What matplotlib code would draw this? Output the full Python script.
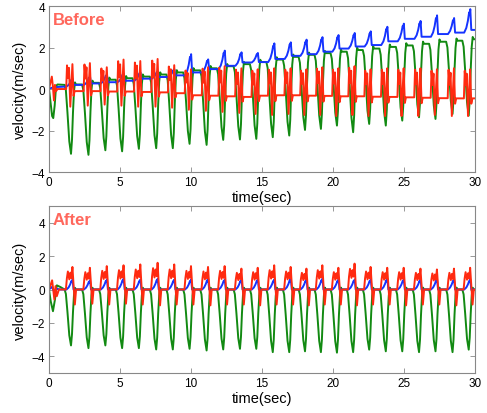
import numpy as np
import matplotlib.pyplot as plt

plt.rcParams['font.family'] = ['Liberation Sans', 'DejaVu Sans']

# time of each green dip (sec), same for both panels
dip_t = [1.55, 2.78, 3.97, 5.15, 6.33, 7.55, 8.72, 9.90, 11.10, 12.27, 13.45, 14.60, 15.76,
         16.92, 18.03, 19.15, 20.28, 21.42, 22.55, 23.72, 24.88, 26.06, 27.22, 28.42, 29.56]

# ---- Before ----
green_top_b = [0.2, 0.22, 0.3, 0.45, 0.52, 0.6, 0.7, 0.8, 0.9, 1.0, 1.1, 1.2, 1.3, 1.42, 1.55,
               1.65, 1.73, 1.8, 1.88, 1.95, 2.03, 2.1, 2.18, 2.28, 2.33, 2.4]
green_min_b = [-3.12, -3.17, -2.95, -3.0, -2.88, -2.85, -2.85, -2.64, -2.69, -2.45, -2.43, -2.4,
               -2.32, -2.24, -1.97, -1.92, -1.76, -2.08, -1.68, -1.76, -1.52, -1.36, -1.44, -1.2, -1.28]
blue_base_b = [0.12, 0.2, 0.27, 0.33, 0.4, 0.5, 0.58, 0.66, 0.8, 0.96, 1.12, 1.28, 1.3, 1.45, 1.6,
               1.68, 1.8, 1.95, 2.05, 2.12, 2.3, 2.42, 2.52, 2.65, 2.72, 2.85]
blue_peak_b = [0.5, 0.6, 0.7, 0.75, 0.8, 0.85, 0.95, 1.68, 1.43, 1.85, 1.77, 1.74, 2.2, 2.25, 2.38,
               2.5, 2.6, 2.7, 2.78, 3.0, 3.15, 3.28, 3.55, 3.42, 3.85]
red_base_b = [0.0, -0.1, -0.1, -0.12, -0.12, -0.14, -0.16, -0.2, -0.3, -0.32, -0.35, -0.38, -0.32,
              -0.3, -0.3, -0.32, -0.33, -0.35, -0.35, -0.37, -0.38, -0.4, -0.42, -0.44, -0.45, -0.45]
red_hi_b = [1.2, 1.25, 1.05, 1.42, 1.35, 1.45, 1.15, 0.95, 1.05, 1.1, 1.0, 0.95, 1.0, 1.0, 0.95,
            1.05, 1.0, 1.1, 0.95, 1.0, 1.0, 1.0, 0.95, 1.0, 0.95]
red_lo_b = [-0.85, -0.8, -0.75, -0.8, -0.85, -0.85, -0.9, -1.0, -1.05, -1.1, -1.15, -1.2, -1.25,
            -1.2, -1.25, -1.25, -1.3, -1.25, -1.3, -1.3, -1.3, -1.3, -1.25, -1.3, -1.3]

# start-up part (first half second)
start_t_green_b = [0, 0.1, 0.22, 0.3, 0.4, 0.5, 0.6]
start_green_b = [0, -0.6, -1.3, -1.4, -0.8, 0.15, 0.22]
start_t_red_b = [0, 0.1, 0.2, 0.28, 0.35, 0.42, 0.5, 0.6]
start_red_b = [0, 0.3, 0.6, 0.1, -0.55, 0.2, -0.1, 0.0]
start_t_blue_b = [0, 0.3, 0.6]
start_blue_b = [0.02, 0.08, 0.1]

# ---- After ----
zeros_a = [0.0] * 26
green_min_a = [-3.35, -3.51, -3.35, -3.51, -3.51, -3.59, -3.59, -3.55, -3.65, -3.59, -3.55, -3.55,
               -3.75, -3.75, -3.7, -3.75, -3.78, -3.75, -3.6, -3.7, -3.7, -3.75, -3.7, -3.75, -3.6]
blue_peak_a = [0.6, 0.55, 0.6, 0.65, 0.6, 0.65, 0.6, 0.6, 0.65, 0.6, 0.6, 0.6, 0.6, 0.65, 0.6,
               0.65, 0.6, 0.6, 0.6, 0.65, 0.6, 0.6, 0.6, 0.6, 0.6]
red_hi_a = [1.35, 1.3, 1.4, 1.45, 1.5, 1.6, 1.5, 1.4, 1.35, 1.4, 1.25, 1.3, 1.45, 1.35, 1.25,
            1.45, 1.3, 1.55, 1.35, 1.3, 1.3, 1.25, 1.2, 1.25, 1.3]
red_lo_a = [-0.9, -0.85, -0.9, -0.85, -0.9, -0.95, -0.9, -0.9, -0.95, -0.9, -0.9, -0.95, -0.9,
            -0.9, -0.95, -0.9, -0.9, -0.95, -0.9, -0.9, -0.95, -0.9, -0.9, -0.95, -0.9]

start_t_green_a = [0, 0.12, 0.28, 0.42, 0.55, 0.8, 1.1]
start_green_a = [0, -0.7, -1.3, -0.6, 0.25, 0.15, 0.0]
start_t_red_a = [0, 0.12, 0.22, 0.3, 0.38, 0.46, 0.55, 0.7]
start_red_a = [0, 0.3, 0.55, 0.0, -0.6, 0.2, -0.4, 0.0]
start_t_blue_a = [0, 0.2, 0.35, 0.5, 0.8]
start_blue_a = [0, 0.15, -0.1, 0.05, 0.0]

# shape of one cycle around a dip: time offset and fraction toward the extreme
green_off = [-0.45, -0.36, -0.25, -0.12, 0.0, 0.07, 0.14, 0.21, 0.28, 0.35]
green_frac = [0.0, 0.08, 0.4, 0.82, 1.0, 0.8, 0.4, 0.1, -0.03, 0.0]
blue_off = [-0.32, -0.17, -0.06, 0.03, 0.07, 0.11, 0.18]
blue_frac = [0.0, 0.2, 0.5, 0.85, 0.75, 1.0, 0.0]
red_off_b = [-0.34, -0.28, -0.21, -0.14, -0.05, 0.03, 0.10, 0.18, 0.26]
red_frac_b = [0.0, 0.95, 0.45, 0.85, -1.0, 0.3, 1.0, -0.3, 0.0]
red_off_a = [-0.36, -0.29, -0.22, -0.12, -0.04, 0.03, 0.10, 0.18, 0.27, 0.36]
red_frac_a = [0.0, 0.5, 0.8, 0.45, 0.75, 0.5, 1.0, 0.2, -1.0, 0.0]


def build(t0, v0, off, frac, base, hi, lo=None):
    tt = list(t0)
    vv = list(v0)
    for k, tc in enumerate(dip_t):
        for o, s in zip(off, frac):
            b = base[k] if o < 0 else base[k + 1]
            if s >= 0:
                v = b + s * (hi[k] - b)
            else:
                ext = lo[k] if lo is not None else 2 * b - hi[k]
                v = b - s * (ext - b)
            tt.append(tc + o)
            vv.append(v)
    tt.append(30.0)
    vv.append(base[-1])
    return tt, vv


c_green = '#128a12'
c_blue = '#1533ff'
c_red = '#ff2a10'
c_title = '#ff675c'
lw = 1.4

fig = plt.figure(figsize=(4.87, 4.14), dpi=100)
ax1 = fig.add_axes([0.1006, 0.582, 0.8747, 0.401])
ax2 = fig.add_axes([0.1006, 0.0966, 0.8747, 0.4034])

g = build(start_t_green_b, start_green_b, green_off, green_frac, green_top_b, green_min_b)
b = build(start_t_blue_b, start_blue_b, blue_off, blue_frac, blue_base_b, blue_peak_b)
r = build(start_t_red_b, start_red_b, red_off_b, red_frac_b, red_base_b, red_hi_b, red_lo_b)
ax1.plot(g[0], g[1], color=c_green, lw=lw)
ax1.plot(b[0], b[1], color=c_blue, lw=lw)
ax1.plot(r[0], r[1], color=c_red, lw=lw)

g = build(start_t_green_a, start_green_a, green_off, green_frac, zeros_a, green_min_a)
b = build(start_t_blue_a, start_blue_a, blue_off, blue_frac, zeros_a, blue_peak_a)
r = build(start_t_red_a, start_red_a, red_off_a, red_frac_a, zeros_a, red_hi_a, red_lo_a)
ax2.plot(g[0], g[1], color=c_green, lw=lw)
ax2.plot(b[0], b[1], color=c_blue, lw=lw)
ax2.plot(r[0], r[1], color=c_red, lw=lw)

ax1.set_ylim(-4, 4)
ax2.set_ylim(-5, 5)
ax1.set_yticks([-4, -2, 0, 2, 4])
ax2.set_yticks([-4, -2, 0, 2, 4])

for ax, name in [(ax1, 'Before'), (ax2, 'After')]:
    ax.set_xlim(0, 30)
    ax.set_xticks([0, 5, 10, 15, 20, 25, 30])
    ax.tick_params(direction='in', top=True, right=True, length=3.5, width=0.6,
                   color='#888888', labelsize=8.5, pad=3)
    for sp in ax.spines.values():
        sp.set_color('#888888')
        sp.set_linewidth(0.8)
    ax.set_ylabel('velocity(m/sec)', fontsize=10.5, labelpad=3)
    ax.set_xlabel('time(sec)', fontsize=10.5, labelpad=1)
    ax.text(0.008, 0.965, name, transform=ax.transAxes, color=c_title,
            fontsize=12, fontweight='bold', va='top', ha='left')

fig.savefig('out.png', dpi=100)
